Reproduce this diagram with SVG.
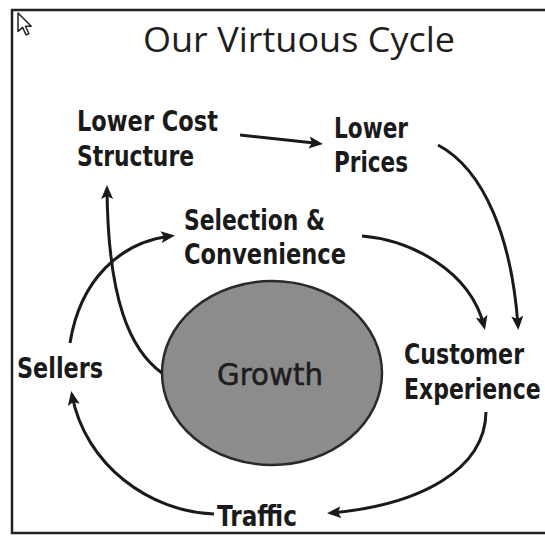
<svg xmlns="http://www.w3.org/2000/svg" width="545" height="536" viewBox="0 0 545 536">
  <style>
    .title { font-family: "Open Sans", "DejaVu Sans", sans-serif; font-size: 34px; fill: #1e1e1e; }
    .label { font-family: "DejaVu Sans", "Open Sans", sans-serif; font-size: 28px; font-weight: bold; fill: #1a1a1a; }
    .core  { font-family: "DejaVu Sans", "Open Sans", sans-serif; font-size: 31px; fill: #1e1e1e; stroke: #1e1e1e; stroke-width: 0.6; }
    .flow  { fill: none; stroke: #1a1a1a; stroke-width: 3; stroke-linecap: butt; marker-end: url(#head); }
  </style>
  <defs>
    <marker id="head" viewBox="0 0 14 12" refX="10" refY="6" markerWidth="14" markerHeight="12" markerUnits="userSpaceOnUse" orient="auto">
      <path d="M0,0 L14,6 L0,12 L3,6 Z" fill="#1a1a1a"/>
    </marker>
  </defs>

  <rect width="545" height="536" fill="#ffffff"/>

  <!-- frame, open on the right -->
  <rect x="12" y="10" width="545" height="523" fill="none" stroke="#222" stroke-width="2.5"/>

  <!-- pointer -->
  <polygon points="0,0 0,16 4,12.5 7,19 9.5,18 6.5,11.5 11.5,11.5" transform="translate(18,13) scale(1.15)" fill="#fff" stroke="#222" stroke-width="1.3" stroke-linejoin="round"/>

  <text class="title" x="143" y="52" textLength="312" lengthAdjust="spacingAndGlyphs">Our Virtuous Cycle</text>

  <g id="growth">
    <ellipse cx="272" cy="373" rx="110" ry="92" fill="#8c8c8c" stroke="#2a2a2a" stroke-width="2.5"/>
    <text class="core" x="217" y="385" textLength="106" lengthAdjust="spacingAndGlyphs">Growth</text>
  </g>

  <g id="lower-cost-structure">
    <text class="label" x="77" y="131" textLength="141" lengthAdjust="spacingAndGlyphs">Lower Cost</text>
    <text class="label" x="77" y="166" textLength="117" lengthAdjust="spacingAndGlyphs">Structure</text>
  </g>

  <g id="lower-prices">
    <text class="label" x="334" y="138" textLength="74" lengthAdjust="spacingAndGlyphs">Lower</text>
    <text class="label" x="334" y="172" textLength="74" lengthAdjust="spacingAndGlyphs">Prices</text>
  </g>

  <g id="selection-convenience">
    <text class="label" x="184" y="230" textLength="141" lengthAdjust="spacingAndGlyphs">Selection &amp;</text>
    <text class="label" x="184" y="264" textLength="162" lengthAdjust="spacingAndGlyphs">Convenience</text>
  </g>

  <!-- narrowed with a horizontal scale so the lines stay inside the frame -->
  <g id="customer-experience">
    <text class="label" transform="translate(404,364) scale(0.79,1)" textLength="152" lengthAdjust="spacingAndGlyphs">Customer</text>
    <text class="label" transform="translate(404,399) scale(0.79,1)" textLength="173" lengthAdjust="spacingAndGlyphs">Experience</text>
  </g>

  <g id="sellers">
    <text class="label" x="17" y="378" textLength="86" lengthAdjust="spacingAndGlyphs">Sellers</text>
  </g>

  <g id="traffic">
    <text class="label" x="217" y="526" textLength="80" lengthAdjust="spacingAndGlyphs">Traffic</text>
  </g>

  <g id="connectors">
    <path class="flow" d="M240,135 L319,143.5"/>
    <path class="flow" d="M438,145 C485,170 512,240 518,326"/>
    <path class="flow" d="M362,236 C410,240 470,270 484,326"/>
    <path class="flow" d="M70,343 C80,280 120,242 171,236"/>
    <path class="flow" d="M162,373 C130,350 108,300 107,189"/>
    <path class="flow" d="M486,412 C485,470 420,505 331,513"/>
    <path class="flow" d="M214,514 C150,512 85,465 72,395"/>
  </g>
</svg>
